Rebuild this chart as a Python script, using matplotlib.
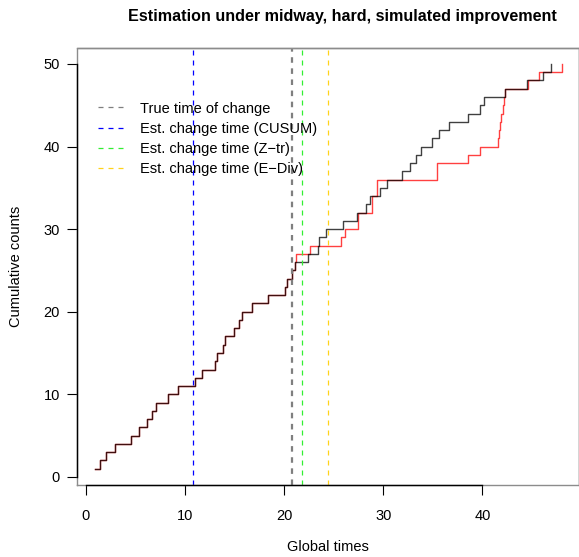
import matplotlib
matplotlib.use("Agg")
import matplotlib.pyplot as plt
from matplotlib.lines import Line2D

plt.rcParams["font.family"] = ["Liberation Sans", "DejaVu Sans"]

# cumulative counts 1..50 and the time each count was reached
counts = list(range(1, 51))
times_black = [0.95, 1.41, 2.07, 2.93, 4.55, 5.38, 6.13, 6.70, 7.13, 8.25,
               9.33, 11.03, 11.77, 13.03, 13.20, 13.79, 13.99, 14.91, 15.49, 15.79,
               16.81, 18.38, 20.10, 20.34, 20.78, 21.10, 22.45, 23.45, 23.55, 24.20,
               25.95, 27.33, 28.27, 28.63, 29.70, 30.40, 31.85, 32.68, 33.30, 33.80,
               34.90, 35.60, 36.60, 38.50, 39.70, 40.15, 42.30, 44.50, 46.15, 46.90]
times_red = [0.95, 1.41, 2.07, 2.93, 4.55, 5.38, 6.13, 6.70, 7.13, 8.25,
             9.33, 11.03, 11.77, 13.03, 13.20, 13.79, 13.99, 14.91, 15.49, 15.79,
             16.81, 18.38, 20.10, 20.34, 20.78, 21.10, 21.22, 22.62, 25.70, 26.15,
             27.40, 27.45, 28.82, 28.86, 29.35, 29.40, 35.40, 35.45, 38.50, 39.70,
             41.55, 41.62, 41.75, 41.90, 42.05, 42.15, 42.30, 44.55, 45.70, 48.00]

t_true = 20.78
t_cusum = 10.77
t_ztr = 21.85
t_ediv = 24.47

x_ticks = [0, 10, 20, 30, 40]
y_ticks = [0, 10, 20, 30, 40, 50]

fig = plt.figure(figsize=(5.79, 5.57), dpi=100)
ax = fig.add_axes([0.1325, 0.1296, 0.867, 0.7846])

ax.step(times_red, counts, where="post", color="red", alpha=0.75, lw=1.0)
ax.step(times_black, counts, where="post", color="black", alpha=0.75, lw=1.0)

ax.axvline(t_true, color="#7f7f7f", lw=1.6, ls=(0, (2.5, 2.5)))
ax.axvline(t_cusum, color="blue", lw=0.9, ls=(0, (4, 4)))
ax.axvline(t_ztr, color="#33ee33", lw=0.9, ls=(0, (4, 4)))
ax.axvline(t_ediv, color="#ffd21a", lw=0.9, ls=(0, (4, 4)))

ax.set_xlim(-0.91, 49.7)
ax.set_ylim(-0.96, 51.96)
ax.set_xticks(x_ticks)
ax.set_yticks(y_ticks)
ax.tick_params(axis="both", labelsize=10.5, length=7, width=0.8)
ax.tick_params(axis="x", pad=10.5)
ax.tick_params(axis="y", pad=5)

for s in ax.spines.values():
    s.set_color("#8c8c8c")
    s.set_linewidth(1.0)
ax.spines["bottom"].set_bounds(0, 40)
ax.spines["left"].set_bounds(0, 50)
ax.spines["bottom"].set_color("black")
ax.spines["left"].set_color("black")
# grey frame around the plotting region
ax.plot([0, 1, 1, 0, 0], [0, 0, 1, 1, 0], transform=ax.transAxes,
        color="#8c8c8c", lw=1.0, clip_on=False)

ax.set_xlabel("Global times", fontsize=10.5)
ax.xaxis.label.set_va("center")
ax.xaxis.set_label_coords(0.5, -0.142)
ax.set_ylabel("Cumulative counts", fontsize=10.5)
ax.yaxis.label.set_va("center")
ax.yaxis.set_label_coords(-0.12, 0.5)
ax.set_title("Estimation under midway, hard, simulated improvement",
             fontsize=11.6, fontweight="bold", pad=19, x=0.53)

handles = [
    Line2D([], [], color="#7f7f7f", lw=0.9, ls=(0, (4, 4))),
    Line2D([], [], color="blue", lw=0.9, ls=(0, (4, 4))),
    Line2D([], [], color="#33ee33", lw=0.9, ls=(0, (4, 4))),
    Line2D([], [], color="#ffd21a", lw=0.9, ls=(0, (4, 4))),
]
labels = ["True time of change", "Est. change time (CUSUM)",
          "Est. change time (Z\u2212tr)", "Est. change time (E\u2212Div)"]
ax.legend(handles, labels, loc="upper left", bbox_to_anchor=(0.042, 0.877),
          frameon=False, fontsize=10.5, handlelength=1.85, handletextpad=1.05,
          labelspacing=0.42, borderpad=0, borderaxespad=0)

fig.savefig("out.png", dpi=100)
